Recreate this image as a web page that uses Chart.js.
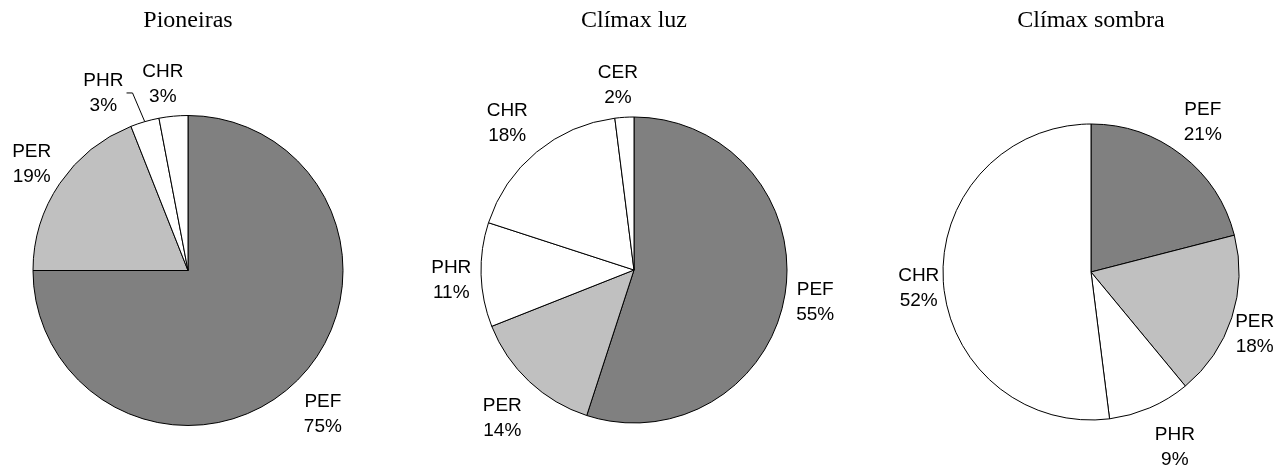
<!DOCTYPE html>
<html>
<head>
<meta charset="utf-8">
<script src="https://cdn.jsdelivr.net/npm/chart.js@4/dist/chart.umd.min.js"></script>
<style>
  html, body { margin: 0; padding: 0; background: #ffffff; }
  #wrap { position: relative; width: 1283px; height: 469px; overflow: hidden; }
  #wrap canvas { position: absolute; left: 0; top: 0; }
</style>
</head>
<body>
<div id="wrap">
  <canvas id="c1" width="1283" height="469"></canvas>
  <canvas id="c2" width="1283" height="469"></canvas>
  <canvas id="c3" width="1283" height="469"></canvas>
</div>
<script>
// ---- data ----
const chartTitles = ['Pioneiras', 'Clímax luz', 'Clímax sombra'];

const pioneirasLabels = ['PEF', 'PER', 'PHR', 'CHR'];
const pioneirasValues = [75, 19, 3, 3];

const luzLabels = ['PEF', 'PER', 'PHR', 'CHR', 'CER'];
const luzValues = [55, 14, 11, 18, 2];

const sombraLabels = ['PEF', 'PER', 'PHR', 'CHR'];
const sombraValues = [21, 18, 9, 52];

// ---- styling ----
const categoryColors = { PEF: '#808080', PER: '#c0c0c0', PHR: '#ffffff', CHR: '#ffffff', CER: '#ffffff' };

// label placement: angular shift (deg) from slice middle, gap (px) beyond arc
const labelLayout1 = [ {shift: 1.8, gap: 42}, {shift: 0, gap: 34}, {shift: -9.4, gap: 41, leader: true}, {shift: -2.3, gap: 33} ];
const labelLayout2 = [ {shift: 1, gap: 31}, {shift: -1.5, gap: 45}, {shift: -1.3, gap: 30}, {shift: -1.2, gap: 41}, {shift: -1.4, gap: 32} ];
const labelLayout3 = [ {shift: -1.1, gap: 39}, {shift: 2.7, gap: 27}, {shift: -2.2, gap: 46}, {shift: -1.7, gap: 25} ];

const sliceLabelPlugin = {
  id: 'sliceLabels',
  afterDatasetsDraw(chart, args, opts) {
    const ctx = chart.ctx;
    const meta = chart.getDatasetMeta(0);
    const labels = chart.data.labels;
    const values = chart.data.datasets[0].data;
    const layout = opts.layout || [];
    ctx.save();
    ctx.font = '19px "Liberation Sans", Arial, sans-serif';
    ctx.fillStyle = '#000';
    ctx.textAlign = 'center';
    ctx.textBaseline = 'middle';
    meta.data.forEach((arc, i) => {
      const p = arc.getProps(['x', 'y', 'startAngle', 'endAngle', 'outerRadius'], true);
      const L = layout[i] || {shift: 0, gap: 35};
      const mid = (p.startAngle + p.endAngle) / 2;
      const a = mid + L.shift * Math.PI / 180;
      const d = p.outerRadius + L.gap;
      const lx = p.x + Math.cos(a) * d;
      const ly = p.y + Math.sin(a) * d;
      ctx.fillText(labels[i], lx, ly - 12.5);
      ctx.fillText(values[i] + '%', lx, ly + 12.5);
      if (L.leader) {
        const sx = p.x + Math.cos(mid) * p.outerRadius;
        const sy = p.y + Math.sin(mid) * p.outerRadius;
        const ex = p.x + Math.cos(mid - 0.02) * (p.outerRadius + 31);
        const ey = p.y + Math.sin(mid - 0.02) * (p.outerRadius + 31);
        ctx.beginPath();
        ctx.strokeStyle = '#000';
        ctx.lineWidth = 1;
        ctx.moveTo(sx, sy);
        ctx.lineTo(ex, ey);
        ctx.lineTo(ex - 6, ey);
        ctx.stroke();
      }
    });
    ctx.restore();
  }
};

function makePie(id, title, labels, values, layout, pad, titleBottom) {
  new Chart(document.getElementById(id), {
    type: 'pie',
    data: {
      labels: labels,
      datasets: [{
        data: values,
        backgroundColor: labels.map(l => categoryColors[l]),
        borderColor: '#000000',
        borderWidth: 1,
        hoverOffset: 0
      }]
    },
    options: {
      responsive: false,
      animation: false,
      events: [],
      layout: { padding: pad },
      plugins: {
        legend: { display: false },
        tooltip: { enabled: false },
        title: {
          display: true,
          text: title,
          color: '#000000',
          font: { family: '"Liberation Serif", "Times New Roman", serif', size: 24, weight: 'normal' },
          padding: { top: 6, bottom: titleBottom }
        },
        sliceLabels: { layout: layout }
      }
    },
    plugins: [sliceLabelPlugin]
  });
}

makePie('c1', chartTitles[0], pioneirasLabels, pioneirasValues, labelLayout1,
  { left: 0, right: 907, top: 0, bottom: 43 }, 80.2);
makePie('c2', chartTitles[1], luzLabels, luzValues, labelLayout2,
  { left: 444, right: 459, top: 0, bottom: 45.5 }, 81.7);
makePie('c3', chartTitles[2], sombraLabels, sombraValues, labelLayout3,
  { left: 921, right: 22, top: 0, bottom: 48.5 }, 88.7);
</script>
</body>
</html>
